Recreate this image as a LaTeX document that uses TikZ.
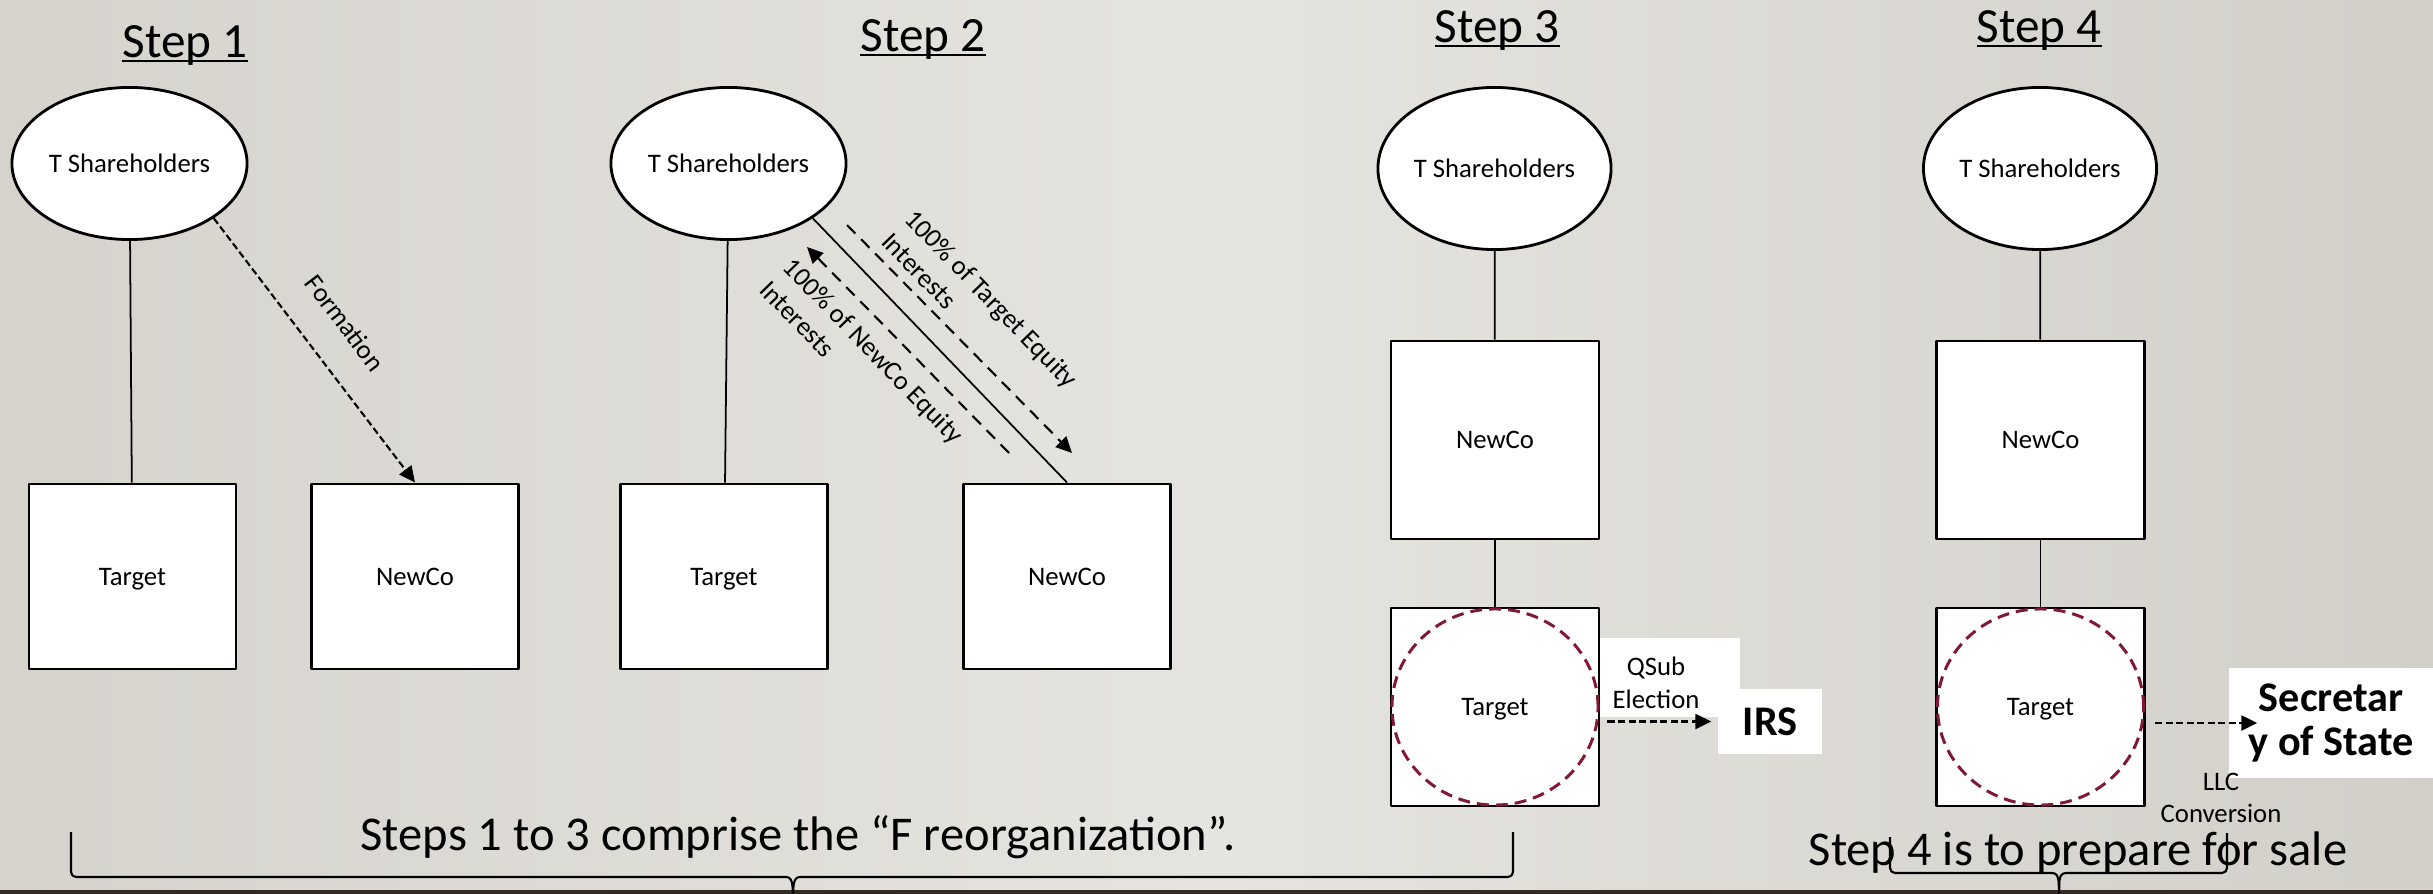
\documentclass[tikz,border=0pt]{standalone}
\usepackage{fontspec}
\setmainfont{Carlito}
\usetikzlibrary{shapes.geometric,arrows.meta}
\definecolor{bgleft}{RGB}{214,211,205}
\definecolor{bgmid}{RGB}{230,228,224}
\definecolor{bgright}{RGB}{210,207,201}
\definecolor{ringred}{RGB}{128,24,54}
\definecolor{floorbrown}{RGB}{52,42,36}
\newcommand{\steptitle}[1]{\setbox0=\hbox{#1}\rlap{\rule[-1.2pt]{\wd0}{0.6pt}}\box0}
\begin{document}
\begin{tikzpicture}[x=0.01cm,y=-0.01cm,>={Triangle[length=0.16cm,width=0.15cm]},font=\fontsize{7.6}{9.3}\selectfont,line join=round,
	holder/.style={ellipse,draw,line width=0.8pt,fill=white,minimum width=2.35cm,minimum height=1.52cm,inner sep=0pt,text depth=0pt},
	entity/.style={rectangle,draw,line width=0.8pt,fill=white,minimum width=2.07cm,minimum height=1.85cm,inner sep=0pt,text depth=0pt},
	tall/.style={minimum width=2.08cm,minimum height=1.98cm},
	title/.style={anchor=base,inner sep=0pt,font=\fontsize{14}{16}\selectfont},
	caption/.style={anchor=base,inner sep=0pt,font=\fontsize{13.8}{16}\selectfont},
	agency/.style={fill=white,inner sep=0pt,align=center,font=\bfseries\fontsize{12}{12.5}\selectfont},
	own/.style={line width=0.5pt},
	fdash/.style={line width=0.6pt,dash pattern=on 2pt off 1pt},
	xdash/.style={line width=0.6pt,dash pattern=on 3.4pt off 2.3pt},
	elect/.style={line width=0.7pt,dash pattern=on 2pt off 1pt},
	ring/.style={ringred,line width=0.85pt,dash pattern=on 3.4pt off 2pt},
	curly/.style={line width=0.6pt}]
		\useasboundingbox (0,0) rectangle (2433,894);
		\shade[left color=bgleft,right color=bgright,middle color=bgmid] (0,0) rectangle (2433,894);
		\fill[floorbrown] (0,890) rectangle (2433,894);
		%	\draw[color=gray!50,dashed] (0,0) grid (2433,894);
		\node (st1) at (185,58)[title]{\steptitle{Step 1}};
		\node (st2) at (923,52)[title]{\steptitle{Step 2}};
		\node (st3) at (1497,43)[title]{\steptitle{Step 3}};
		\node (st4) at (2039,43)[title]{\steptitle{Step 4}};
		% step 1
		\node (ts1) at (129.5,163.5)[holder]{T Shareholders};
		\node (tg1) at (132.5,576.5)[entity]{Target};
		\node (nc1) at (415,576.5)[entity]{NewCo};
		\draw[own] (ts1) -- (tg1);
		\draw[fdash,->] (ts1.-33) -- (nc1.north);
		\node (form) at (345,323)[rotate=-53]{Formation};
		% step 2
		\node (ts2) at (728.5,163.5)[holder]{T Shareholders};
		\node (tg2) at (724,576.5)[entity]{Target};
		\node (nc2) at (1067,576.5)[entity]{NewCo};
		\draw[own] (ts2) -- (tg2);
		\draw[own] (ts2.-33) -- (nc2.north);
		\coordinate (tgtA) at (847,225);
		\coordinate (tgtB) at (1072,453);
		\coordinate (ncoA) at (1009,453);
		\coordinate (ncoB) at (807,247);
		\draw[xdash,->] (tgtA) -- (tgtB);
		\draw[xdash,->] (ncoA) -- (ncoB);
		\node (tgteq) at (980,310)[rotate=-46,align=left]{100\% of Target Equity\\Interests};
		\node (ncoeq) at (862,362)[rotate=-46,align=left]{100\% of NewCo Equity\\Interests};
		% step 3
		\node (ts3) at (1494.5,168.5)[holder,minimum width=2.33cm,minimum height=1.62cm]{T Shareholders};
		\node (nc3) at (1495,440)[entity,tall]{NewCo};
		\node (tg3) at (1495,707)[entity,tall]{Target};
		\draw[ring] (tg3.center) ellipse [x radius=1.03cm,y radius=0.98cm];
		\draw[own] (ts3) -- (nc3);
		\draw[own] (nc3) -- (tg3);
		\fill[white] (1600,638) rectangle (1740,717);
		\node (qsub) at (1656,683)[align=center]{QSub\\Election};
		\node (irs) at (1770,721.5)[agency,minimum width=1.04cm,minimum height=0.65cm]{IRS};
		\draw[elect,->,shorten <=0.07cm,shorten >=0.06cm] (tg3.east |- irs.west) -- (irs.west);
		% step 4
		\node (ts4) at (2040,168.5)[holder,minimum width=2.33cm,minimum height=1.62cm]{T Shareholders};
		\node (nc4) at (2040.5,440)[entity,tall]{NewCo};
		\node (tg4) at (2040.5,707)[entity,tall]{Target};
		\draw[ring] (tg4.center) ellipse [x radius=1.03cm,y radius=0.98cm];
		\draw[own] (ts4) -- (nc4);
		\draw[own] (nc4) -- (tg4);
		\node (sos) at (2331,723)[agency,minimum width=2.04cm,minimum height=1.10cm]{Secretar\\y of State};
		\draw[elect,->,shorten <=0.09cm] (tg4.east |- sos.west) -- ([xshift=0.29cm]sos.west);
		\node (llc) at (2221,798)[align=center]{LLC\\Conversion};
		% summary
		\node (fsum) at (798,850)[caption]{Steps 1 to 3 comprise the “F reorganization”.};
		\node (ssum) at (2078,865)[caption]{Step 4 is to prepare for sale};
		\draw[curly] (71,832) -- (71,872) to[out=-90,in=180] (76,877) -- (786,877) to[out=0,in=95] (793,894) to[out=85,in=180] (800,877) -- (1508,877) to[out=0,in=-90] (1513,872) -- (1513,832);
		\draw[curly] (1890,837) -- (1890,868) to[out=-90,in=180] (1895,873) -- (2052,873) to[out=0,in=95] (2059,894) to[out=85,in=180] (2066,873) -- (2222,873) to[out=0,in=-90] (2227,868) -- (2227,833);
\end{tikzpicture}
\end{document}
